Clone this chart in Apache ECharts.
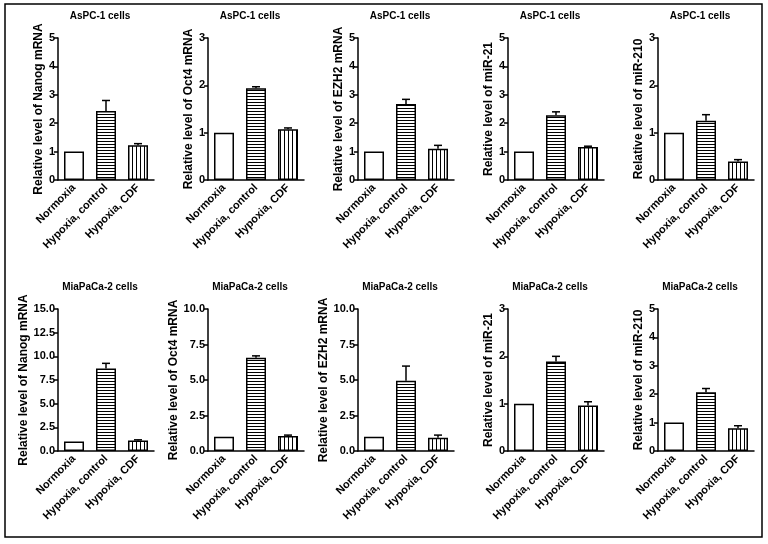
<!DOCTYPE html>
<html>
<head>
<meta charset="utf-8">
<script src="https://cdn.jsdelivr.net/npm/echarts@6/dist/echarts.min.js"></script>
<style>html,body{margin:0;padding:0;background:#fff;}#c{width:768px;height:544px;}</style>
</head>
<body>
<div id="c"></div>
<script>
const categories = ['Normoxia', 'Hypoxia, control', 'Hypoxia, CDF'];
const panelTitles = ['AsPC-1 cells', 'AsPC-1 cells', 'AsPC-1 cells', 'AsPC-1 cells', 'AsPC-1 cells',
  'MiaPaCa-2 cells', 'MiaPaCa-2 cells', 'MiaPaCa-2 cells', 'MiaPaCa-2 cells', 'MiaPaCa-2 cells'];
const yNames = ['Relative level of Nanog mRNA', 'Relative level of Oct4 mRNA', 'Relative level of EZH2 mRNA',
  'Relative level of miR-21', 'Relative level of miR-210',
  'Relative level of Nanog mRNA', 'Relative level of Oct4 mRNA', 'Relative level of EZH2 mRNA',
  'Relative level of miR-21', 'Relative level of miR-210'];
const yMax = [5, 3, 5, 5, 3, 15, 10, 10, 3, 5];
const yStep = [1, 1, 1, 1, 1, 2.5, 2.5, 2.5, 1, 1];
const normoxia = [1, 1, 1, 1, 1, 1, 1, 1, 1, 1];
const hypoxiaControl = [2.43, 1.94, 2.68, 2.28, 1.25, 8.72, 6.56, 4.95, 1.89, 2.07];
const hypoxiaCDF = [1.22, 1.07, 1.10, 1.16, 0.39, 1.10, 1.05, 0.93, 0.96, 0.80];
const errControl = [0.37, 0.03, 0.16, 0.12, 0.13, 0.54, 0.14, 1.03, 0.11, 0.13];
const errCDF = [0.06, 0.03, 0.12, 0.03, 0.04, 0.08, 0.07, 0.19, 0.08, 0.09];

const FONT = "'Liberation Sans', Arial, sans-serif";

function makePattern(horizontal) {
  const cv = document.createElement('canvas');
  cv.width = 4;
  cv.height = horizontal ? 3 : 4;
  const ctx = cv.getContext('2d');
  ctx.fillStyle = '#fff';
  ctx.fillRect(0, 0, cv.width, cv.height);
  ctx.fillStyle = '#000';
  if (horizontal) ctx.fillRect(0, 0, cv.width, 1);
  else ctx.fillRect(0, 0, 1, cv.height);
  return { image: cv, repeat: 'repeat' };
}
const hPat = makePattern(true);
const vPat = makePattern(false);
const fills = ['#ffffff', hPat, vPat];

const grids = [], xAxes = [], yAxes = [], series = [], titles = [];
for (let k = 0; k < 10; k++) {
  const col = k % 5, row = Math.floor(k / 5);
  const left = 58 + 150 * col;
  const top = row === 0 ? 38 : 309;
  grids.push({ left: left, top: top, width: 96, height: 142 });
  titles.push({
    text: panelTitles[k], left: 100 + 150 * col, top: row === 0 ? 11 : 282, textAlign: 'center', padding: 0,
    textStyle: { fontFamily: FONT, fontSize: 10, fontWeight: 'bold', color: '#000' }
  });
  xAxes.push({
    type: 'category', gridIndex: k, data: categories,
    axisLine: { lineStyle: { color: '#000', width: 1.5 } },
    axisTick: { alignWithLabel: true, length: 4, lineStyle: { color: '#000', width: 1.5 } },
    axisLabel: { rotate: 45, margin: 6, interval: 0, fontFamily: FONT, fontSize: 11, fontWeight: 'bold', color: '#000' },
    splitLine: { show: false }
  });
  const dec = yStep[k] % 1 !== 0;
  yAxes.push({
    type: 'value', gridIndex: k, min: 0, max: yMax[k], interval: yStep[k],
    name: yNames[k], nameLocation: 'middle', nameGap: dec ? 27 : 12,
    nameTextStyle: { fontFamily: FONT, fontSize: 12, fontWeight: 'bold', color: '#000' },
    axisLine: { show: true, lineStyle: { color: '#000', width: 1.5 } },
    axisTick: { show: true, length: 4, lineStyle: { color: '#000', width: 1.5 } },
    axisLabel: { margin: 3, fontFamily: FONT, fontSize: 11, fontWeight: 'bold', color: '#000',
      formatter: v => dec ? v.toFixed(1) : String(v) },
    splitLine: { show: false }
  });
  const vals = [normoxia[k], hypoxiaControl[k], hypoxiaCDF[k]];
  series.push({
    type: 'bar', xAxisIndex: k, yAxisIndex: k, barWidth: 20, animation: false,
    data: vals.map((v, i) => ({ value: v, itemStyle: { color: fills[i], borderColor: '#000', borderWidth: 1.5 } })),
    silent: true
  });
  const errs = [null, errControl[k], errCDF[k]];
  const errData = [];
  for (let i = 1; i < 3; i++) errData.push([i, vals[i], vals[i] + errs[i]]);
  series.push({
    type: 'custom', xAxisIndex: k, yAxisIndex: k, animation: false, silent: true,
    encode: { x: 0, y: [1, 2] },
    data: errData,
    renderItem: function (params, api) {
      const x = api.value(0);
      const p0 = api.coord([x, api.value(1)]);
      const p1 = api.coord([x, api.value(2)]);
      return {
        type: 'group', children: [
          { type: 'line', shape: { x1: p0[0], y1: p0[1], x2: p1[0], y2: p1[1] }, style: { stroke: '#000', lineWidth: 1.5 } },
          { type: 'line', shape: { x1: p1[0] - 4, y1: p1[1], x2: p1[0] + 4, y2: p1[1] }, style: { stroke: '#000', lineWidth: 1.5 } }
        ]
      };
    }
  });
}

const chart = echarts.init(document.getElementById('c'), null, { renderer: 'canvas' });
chart.setOption({
  backgroundColor: '#fff',
  animation: false,
  title: titles,
  grid: grids,
  xAxis: xAxes,
  yAxis: yAxes,
  series: series,
  graphic: [{
    type: 'rect', shape: { x: 5, y: 4, width: 757, height: 533 },
    style: { fill: 'none', stroke: '#000', lineWidth: 1.5 }, z: -1
  }]
});
</script>
</body>
</html>
